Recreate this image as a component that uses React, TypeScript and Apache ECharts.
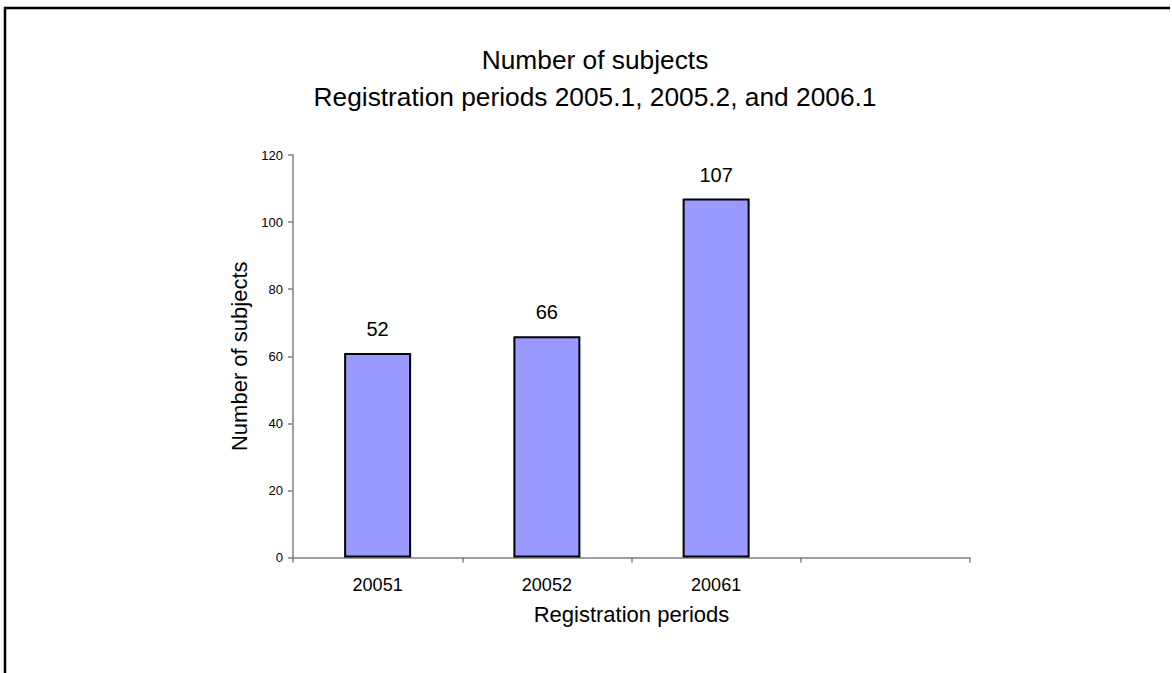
import React, { useEffect, useRef } from "react";
import * as echarts from "echarts";

const categories = ["20051", "20052", "20061", ""];
// bar heights as drawn in the picture (first bar is drawn near 61 though labelled 52)
const barHeights = [61, 66, 107, null];
// data labels as printed on the chart
const barLabels = ["52", "66", "107", ""];
const yTicks = [0, 20, 40, 60, 80, 100, 120];
const titleLines = ["Number of subjects", "Registration periods 2005.1, 2005.2, and 2006.1"];

const FONT = "'Liberation Sans', Arial, Helvetica, sans-serif";

export default function App() {
  const ref = useRef<HTMLDivElement>(null);
  useEffect(() => {
    if (!ref.current) return;
    const chart = echarts.init(ref.current, undefined, { renderer: "svg" });
    chart.setOption({
      animation: false,
      backgroundColor: "#ffffff",
      textStyle: { fontFamily: FONT },
      title: {
        text: titleLines.join("\n"),
        left: 595,
        textAlign: "center",
        top: 41,
        padding: 0,
        textStyle: { fontSize: 26.3, fontWeight: "normal", color: "#000", lineHeight: 37, fontFamily: FONT },
      },
      grid: { left: 293, right: 202, top: 155, bottom: 115.5, containLabel: false },
      xAxis: {
        type: "category",
        data: categories,
        boundaryGap: true,
        name: "Registration periods",
        nameLocation: "middle",
        nameGap: 46,
        nameTextStyle: { fontSize: 22, color: "#000", fontFamily: FONT },
        axisLine: { lineStyle: { color: "#808080", width: 1.5 } },
        axisTick: { show: true, alignWithLabel: false, length: 5, lineStyle: { color: "#808080", width: 1.5 } },
        axisLabel: { fontSize: 18, color: "#000", margin: 18, fontFamily: FONT },
        splitLine: { show: false },
      },
      yAxis: {
        type: "value",
        min: yTicks[0],
        max: yTicks[yTicks.length - 1],
        interval: 20,
        name: "Number of subjects",
        nameLocation: "middle",
        nameGap: 43,
        nameRotate: 90,
        nameTextStyle: { fontSize: 22, color: "#000", fontFamily: FONT },
        axisLine: { show: true, lineStyle: { color: "#808080", width: 1.5 } },
        axisTick: { show: true, length: 5, lineStyle: { color: "#808080", width: 1.5 } },
        axisLabel: { fontSize: 13, color: "#000", margin: 10, fontFamily: FONT },
        splitLine: { show: false },
      },
      series: [
        {
          type: "bar",
          data: barHeights,
          barWidth: 67,
          itemStyle: { color: "#9999FF", borderColor: "#000", borderWidth: 2 },
          label: {
            show: true,
            position: "top",
            distance: 14,
            fontSize: 20,
            color: "#000",
            fontFamily: FONT,
            formatter: (p: any) => barLabels[p.dataIndex] ?? "",
          },
        },
      ],
      graphic: [
        { type: "line", shape: { x1: 4, y1: 8, x2: 1170, y2: 8 }, style: { stroke: "#000", lineWidth: 2.5 } },
        { type: "line", shape: { x1: 5, y1: 7, x2: 5, y2: 673 }, style: { stroke: "#000", lineWidth: 2.5 } },
      ],
    });
    return () => chart.dispose();
  }, []);
  return (
    <div
      ref={ref}
      style={{ position: "fixed", left: 0, top: 0, width: 1172, height: 673, background: "#fff" }}
    />
  );
}
